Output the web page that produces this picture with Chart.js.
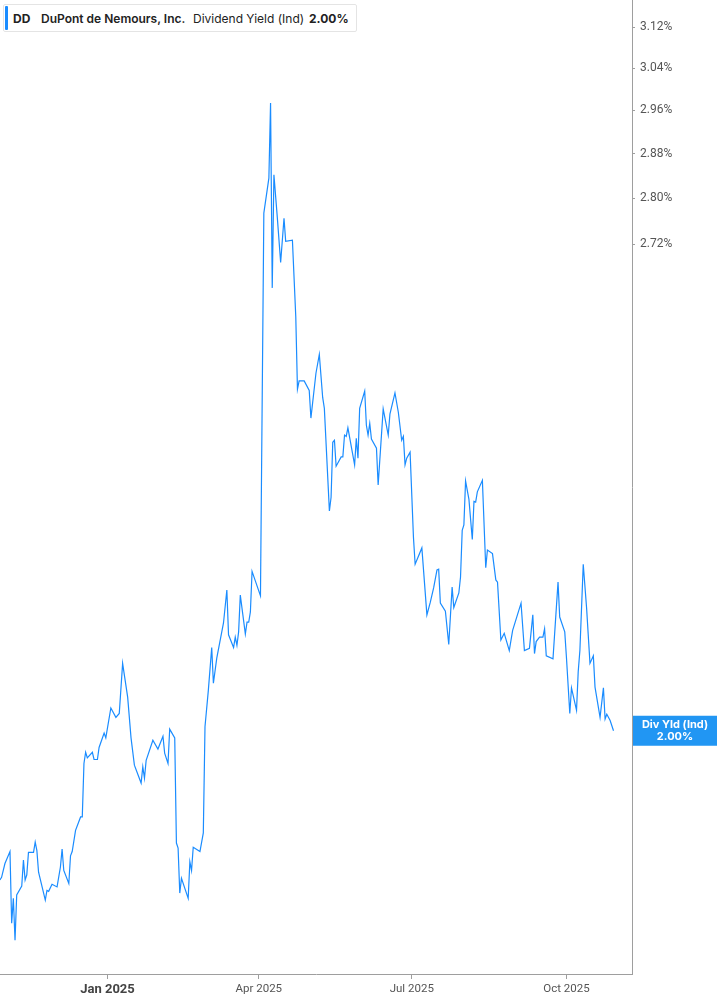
<!DOCTYPE html>
<html>
<head>
<meta charset="utf-8">
<script src="https://cdn.jsdelivr.net/npm/chart.js@4.4.1/dist/chart.umd.min.js"></script>
<style>
    html, body { margin: 0; padding: 0; background: #fff; }
    #wrap { position: relative; width: 717px; height: 1005px; }
    #legend-box {
        position: absolute; left: 3px; top: 4px; width: 352px; height: 26px;
        border: 1px solid #e4e4e4; border-radius: 2px; background: #fff;
        font-family: Inter, 'Noto Sans', sans-serif; font-size: 12px; color: #222;
        display: flex; align-items: center; white-space: nowrap;
    }
    #legend-box .bar { position: absolute; left: 1px; top: 1px; bottom: 1px; width: 3px; background: #1a8cff; border-radius: 1px; }
    #legend-box .sym { position: absolute; left: 9px; font-weight: 700; }
    #legend-box .name { position: absolute; left: 37px; font-weight: 600; }
    #legend-box .metric { position: absolute; left: 189px; font-weight: 400; }
    #legend-box .val { position: absolute; left: 305px; font-weight: 700; }
</style>
</head>
<body>
<div id="wrap">
    <canvas id="chart"></canvas>
    <div id="legend-box">
        <div class="bar"></div>
        <span class="sym">DD</span>
        <span class="name">DuPont de Nemours, Inc.</span>
        <span class="metric">Dividend Yield (Ind)</span>
        <span class="val">2.00%</span>
    </div>
</div>
<script>
// ── datos ──
const dates = [
    '2024-10-29','2024-10-30','2024-11-01','2024-11-04','2024-11-05','2024-11-06','2024-11-07','2024-11-08',
    '2024-11-11','2024-11-12','2024-11-13','2024-11-14','2024-11-15','2024-11-18','2024-11-19','2024-11-20',
    '2024-11-21','2024-11-25','2024-11-26','2024-11-27','2024-11-29','2024-12-02','2024-12-04','2024-12-05',
    '2024-12-06','2024-12-09','2024-12-10','2024-12-11','2024-12-13','2024-12-16','2024-12-17','2024-12-18',
    '2024-12-19','2024-12-20','2024-12-23','2024-12-24','2024-12-26','2024-12-27','2024-12-30','2024-12-31',
    '2025-01-03','2025-01-06','2025-01-08','2025-01-10','2025-01-13','2025-01-15','2025-01-17','2025-01-21',
    '2025-01-22','2025-01-23','2025-01-24','2025-01-28','2025-01-31','2025-02-03','2025-02-04','2025-02-06',
    '2025-02-07','2025-02-10','2025-02-11','2025-02-12','2025-02-13','2025-02-14','2025-02-18','2025-02-19',
    '2025-02-20','2025-02-21','2025-02-25','2025-02-27','2025-02-28','2025-03-02','2025-03-04','2025-03-05',
    '2025-03-07','2025-03-11','2025-03-13','2025-03-14','2025-03-17','2025-03-18','2025-03-19','2025-03-20',
    '2025-03-21','2025-03-24','2025-03-25','2025-03-26','2025-03-27','2025-03-28','2025-04-02','2025-04-04',
    '2025-04-07','2025-04-08','2025-04-09','2025-04-10','2025-04-12','2025-04-14','2025-04-16','2025-04-17',
    '2025-04-21','2025-04-23','2025-04-24','2025-04-25','2025-04-28','2025-05-01','2025-05-02','2025-05-05',
    '2025-05-07','2025-05-09','2025-05-10','2025-05-13','2025-05-14','2025-05-15','2025-05-16','2025-05-17',
    '2025-05-20','2025-05-21','2025-05-22','2025-05-23','2025-05-24','2025-05-28','2025-05-29','2025-05-30',
    '2025-05-31','2025-06-03','2025-06-04','2025-06-05','2025-06-06','2025-06-07','2025-06-10','2025-06-11',
    '2025-06-14','2025-06-17','2025-06-18','2025-06-21','2025-06-23','2025-06-25','2025-06-26','2025-06-27',
    '2025-06-28','2025-06-30','2025-07-02','2025-07-03','2025-07-07','2025-07-10','2025-07-12','2025-07-14',
    '2025-07-16','2025-07-17','2025-07-18','2025-07-21','2025-07-23','2025-07-25','2025-07-26','2025-07-29',
    '2025-07-30','2025-07-31','2025-08-01','2025-08-02','2025-08-04','2025-08-06','2025-08-07','2025-08-08',
    '2025-08-09','2025-08-12','2025-08-14','2025-08-15','2025-08-18','2025-08-20','2025-08-21','2025-08-23',
    '2025-08-25','2025-08-28','2025-08-30','2025-09-04','2025-09-06','2025-09-09','2025-09-11','2025-09-12',
    '2025-09-13','2025-09-15','2025-09-17','2025-09-18','2025-09-19','2025-09-23','2025-09-26','2025-09-27',
    '2025-09-30','2025-10-01','2025-10-03','2025-10-04','2025-10-07','2025-10-08','2025-10-09','2025-10-11',
    '2025-10-13','2025-10-15','2025-10-17','2025-10-18','2025-10-21','2025-10-23','2025-10-24','2025-10-25',
    '2025-10-27','2025-10-29'
];

const yieldPct = [
    1.820, 1.823, 1.839, 1.853, 1.771, 1.799, 1.752, 1.803,
    1.813, 1.843, 1.820, 1.826, 1.852, 1.852, 1.864, 1.854,
    1.829, 1.797, 1.808, 1.807, 1.815, 1.812, 1.835, 1.856,
    1.831, 1.816, 1.848, 1.853, 1.878, 1.894, 1.894, 1.959,
    1.973, 1.966, 1.973, 1.964, 1.964, 1.979, 1.997, 1.991,
    2.029, 2.017, 2.022, 2.087, 2.043, 1.991, 1.957, 1.935,
    1.955, 1.941, 1.963, 1.988, 1.977, 1.993, 1.972, 1.959,
    2.002, 1.991, 1.863, 1.857, 1.805, 1.822, 1.799, 1.841,
    1.831, 1.858, 1.853, 1.875, 2.005, 2.052, 2.108, 2.061,
    2.094, 2.141, 2.186, 2.125, 2.108, 2.122, 2.111, 2.129,
    2.179, 2.126, 2.142, 2.142, 2.156, 2.212, 2.178, 2.774,
    2.836, 2.974, 2.646, 2.842, 2.767, 2.689, 2.765, 2.725,
    2.727, 2.598, 2.482, 2.495, 2.495, 2.480, 2.437, 2.507,
    2.537, 2.469, 2.452, 2.298, 2.318, 2.400, 2.403, 2.364,
    2.378, 2.378, 2.411, 2.409, 2.422, 2.366, 2.406, 2.376,
    2.452, 2.479, 2.426, 2.411, 2.429, 2.405, 2.391, 2.336,
    2.451, 2.411, 2.443, 2.476, 2.446, 2.403, 2.409, 2.366,
    2.376, 2.385, 2.260, 2.222, 2.245, 2.152, 2.169, 2.189,
    2.214, 2.215, 2.168, 2.157, 2.112, 2.190, 2.162, 2.182,
    2.204, 2.270, 2.278, 2.342, 2.315, 2.257, 2.312, 2.311,
    2.326, 2.343, 2.217, 2.242, 2.237, 2.200, 2.197, 2.118,
    2.127, 2.104, 2.131, 2.168, 2.104, 2.107, 2.152, 2.100,
    2.116, 2.122, 2.122, 2.133, 2.097, 2.093, 2.197, 2.149,
    2.129, 2.095, 2.022, 2.055, 2.026, 2.076, 2.104, 2.222,
    2.161, 2.087, 2.097, 2.056, 2.017, 2.055, 2.015, 2.021,
    2.013, 2.000
];

const xTickDates = ['2025-01-01', '2025-04-01', '2025-07-01', '2025-10-01'];
const xTickLabels = ['Jan 2025', 'Apr 2025', 'Jul 2025', 'Oct 2025'];
const yTicks = [2.72, 2.80, 2.88, 2.96, 3.04, 3.12];
const yMin = 1.715;
const yMax = 3.174;
const lastLabel = 'Div Yld (Ind)';

const BLUE = '#1a8cff';
const AXIS = '#9e9e9e';

// días desde epoch
function dayNum(s) {
    const [y, m, d] = s.split('-').map(Number);
    return Date.UTC(y, m - 1, d) / 86400000;
}

const points = dates.map((d, i) => ({ x: dayNum(d), y: yieldPct[i] }));
const jan1 = dayNum('2025-01-01');

// etiqueta del último valor a la derecha
const lastValuePlugin = {
    id: 'lastValue',
    afterDraw(chart) {
        const { ctx } = chart;
        const ys = chart.scales.y;
        const v = yieldPct[yieldPct.length - 1];
        const py = ys.getPixelForValue(v);
        const x0 = ys.left + 1;
        const w = chart.width - x0;
        ctx.save();
        ctx.fillStyle = '#2196f3';
        ctx.fillRect(x0, py - 15, w, 30);
        ctx.fillStyle = '#fff';
        ctx.font = '700 11px Inter, "Noto Sans", sans-serif';
        ctx.textAlign = 'center';
        ctx.textBaseline = 'middle';
        ctx.fillText(lastLabel, x0 + w / 2, py - 6);
        ctx.fillText(v.toFixed(2) + '%', x0 + w / 2, py + 6);
        ctx.restore();
    }
};

new Chart(document.getElementById('chart'), {
    type: 'line',
    data: {
        datasets: [{
            data: points,
            borderColor: BLUE,
            borderWidth: 1.2,
            pointRadius: 0,
            tension: 0,
            fill: false
        }]
    },
    options: {
        responsive: true,
        maintainAspectRatio: false,
        animation: false,
        layout: { padding: 0 },
        plugins: {
            legend: { display: false },
            tooltip: { enabled: false }
        },
        scales: {
            x: {
                type: 'linear',
                min: jan1 - 63.94,
                max: jan1 + 312.0,
                afterBuildTicks: s => { s.ticks = xTickDates.map(d => ({ value: dayNum(d) })); },
                afterFit: s => { s.height = 31; s.paddingLeft = 0; s.paddingRight = 0; },
                border: { color: AXIS, width: 1 },
                grid: { drawOnChartArea: false, drawTicks: true, tickLength: 5, color: AXIS },
                ticks: {
                    autoSkip: false,
                    maxRotation: 0,
                    padding: 3,
                    color: ctx => ctx.index === 0 ? '#444' : '#555',
                    font: ctx => ctx.index === 0
                        ? { family: 'Roboto, sans-serif', size: 13, weight: 'bold' }
                        : { family: 'Roboto, sans-serif', size: 11.5 },
                    callback: (v, i) => xTickLabels[i]
                }
            },
            y: {
                type: 'logarithmic',
                position: 'right',
                bounds: 'data',
                min: yMin,
                max: yMax,
                afterBuildTicks: s => {
                    s.ticks = yTicks.map(v => ({ value: v }));
                    s.min = yMin;
                    s.max = yMax;
                },
                afterFit: s => { s.width = 85; s.paddingTop = 0; s.paddingBottom = 0; },
                border: { color: AXIS, width: 1 },
                grid: { drawOnChartArea: false, drawTicks: true, tickLength: 3, color: AXIS },
                ticks: {
                    padding: 5,
                    color: '#555',
                    font: { family: 'Roboto, sans-serif', size: 12 },
                    callback: v => Number(v).toFixed(2) + '%'
                }
            }
        }
    },
    plugins: [lastValuePlugin]
});
</script>
</body>
</html>
